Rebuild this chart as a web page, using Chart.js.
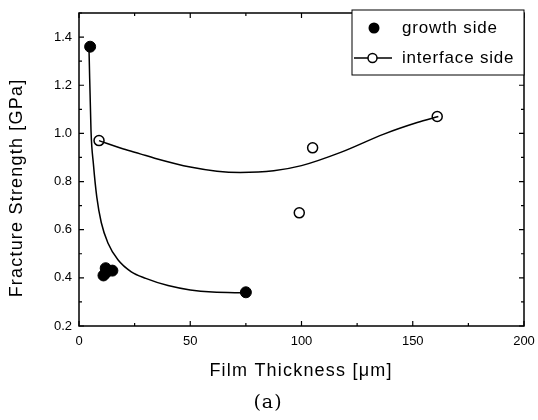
<!DOCTYPE html>
<html>
<head>
<meta charset="utf-8">
<script src="https://cdn.jsdelivr.net/npm/chart.js@4.4.0/dist/chart.umd.min.js"></script>
<style>
  html, body { margin: 0; padding: 0; background: #fff; }
  #wrap { width: 538px; height: 420px; position: relative; }
</style>
</head>
<body>
<div id="wrap"><canvas id="chart"></canvas></div>
<script>
// measured strength vs. film thickness
const growthX = [5, 11, 12, 15, 12, 75];
const growthY = [1.36, 0.41, 0.44, 0.43, 0.42, 0.34];
const interfaceX = [9, 99, 105, 161];
const interfaceY = [0.97, 0.67, 0.94, 1.07];

// hand-drawn trend curves
const growthFitX = [4.5, 5.4, 6.5, 8, 10, 13, 17.5, 23.5, 30, 40, 50, 60, 75];
const growthFitY = [1.35, 1.01, 0.87, 0.735, 0.63, 0.545, 0.475, 0.425, 0.398, 0.368, 0.35, 0.341, 0.338];
const interfaceFitX = [9, 20, 27.5, 34, 50, 62, 72.5, 87.5, 100, 117.6, 137, 152, 161.5];
const interfaceFitY = [0.97, 0.935, 0.915, 0.897, 0.86, 0.843, 0.838, 0.845, 0.866, 0.921, 0.997, 1.045, 1.07];

// axes
const xTicks = [0, 50, 100, 150, 200];
const xMinor = [25, 75, 125, 175];
const yTicks = [0.2, 0.4, 0.6, 0.8, 1.0, 1.2, 1.4];
const yMinor = [0.3, 0.5, 0.7, 0.9, 1.1, 1.3, 1.5];

const xTitle = 'Film Thickness [\u03bcm]';
const yTitle = 'Fracture Strength [GPa]';
const panelLabel = '(a)';
const legendLabels = ['growth side', 'interface side'];

const pts = (xs, ys) => xs.map((x, i) => ({ x: x, y: ys[i] }));
const FONT = '"Liberation Sans", Arial, sans-serif';

// frame, inward ticks, titles and legend box
const decor = {
  id: 'decor',
  afterDraw(chart) {
    const ctx = chart.ctx;
    const a = chart.chartArea;
    const xs = chart.scales.x, ys = chart.scales.y;
    ctx.save();
    ctx.strokeStyle = '#000';
    ctx.lineWidth = 1.5;
    ctx.strokeRect(a.left, a.top, a.right - a.left, a.bottom - a.top);

    ctx.lineWidth = 1.2;
    ctx.beginPath();
    const xt = (v, len) => {
      const p = xs.getPixelForValue(v);
      ctx.moveTo(p, a.bottom); ctx.lineTo(p, a.bottom - len);
      ctx.moveTo(p, a.top); ctx.lineTo(p, a.top + len);
    };
    const yt = (v, len) => {
      const p = ys.getPixelForValue(v);
      ctx.moveTo(a.left, p); ctx.lineTo(a.left + len, p);
      ctx.moveTo(a.right, p); ctx.lineTo(a.right - len, p);
    };
    xTicks.forEach(v => xt(v, 5));
    xMinor.forEach(v => xt(v, 3));
    yTicks.forEach(v => yt(v, 5));
    yMinor.forEach(v => yt(v, 3));
    ctx.stroke();

    // axis titles
    ctx.fillStyle = '#000';
    ctx.font = '18px ' + FONT;
    ctx.letterSpacing = '1.2px';
    ctx.textAlign = 'center';
    ctx.textBaseline = 'middle';
    ctx.fillText(xTitle, 301, 371);
    ctx.save();
    ctx.translate(17, 188);
    ctx.rotate(-Math.PI / 2);
    ctx.fillText(yTitle, 0, 0);
    ctx.restore();
    ctx.letterSpacing = '1px';
    ctx.font = '19px "DejaVu Serif", "Liberation Serif", serif';
    ctx.fillText(panelLabel, 268, 403);

    // legend
    const bx = 352, by = 10, bw = a.right - bx, bh = 65;
    ctx.fillStyle = '#fff';
    ctx.fillRect(bx, by, bw, bh);
    ctx.lineWidth = 1;
    ctx.strokeRect(bx, by, bw, bh);
    ctx.fillStyle = '#000';
    ctx.beginPath();
    ctx.arc(374, 28, 5.5, 0, Math.PI * 2);
    ctx.fill();
    ctx.lineWidth = 1.5;
    ctx.beginPath();
    ctx.moveTo(354, 58); ctx.lineTo(368, 58);
    ctx.moveTo(377, 58); ctx.lineTo(392, 58);
    ctx.stroke();
    ctx.beginPath();
    ctx.arc(372.5, 58, 4.5, 0, Math.PI * 2);
    ctx.stroke();
    ctx.font = '17px ' + FONT;
    ctx.letterSpacing = '0.8px';
    ctx.textAlign = 'left';
    ctx.fillText(legendLabels[0], 402, 28);
    ctx.fillText(legendLabels[1], 402, 58);
    ctx.restore();
  }
};

new Chart(document.getElementById('chart'), {
  type: 'scatter',
  data: {
    datasets: [
      {
        label: 'growth fit',
        type: 'line',
        data: pts(growthFitX, growthFitY),
        borderColor: '#000',
        borderWidth: 1.5,
        pointRadius: 0,
        cubicInterpolationMode: 'monotone',
        fill: false
      },
      {
        label: 'interface fit',
        type: 'line',
        data: pts(interfaceFitX, interfaceFitY),
        borderColor: '#000',
        borderWidth: 1.5,
        pointRadius: 0,
        cubicInterpolationMode: 'monotone',
        fill: false
      },
      {
        label: legendLabels[0],
        data: pts(growthX, growthY),
        backgroundColor: '#000',
        borderColor: '#000',
        pointRadius: 5.5
      },
      {
        label: legendLabels[1],
        data: pts(interfaceX, interfaceY),
        backgroundColor: '#fff',
        borderColor: '#000',
        borderWidth: 1.5,
        pointRadius: 5
      }
    ]
  },
  options: {
    responsive: true,
    maintainAspectRatio: false,
    animation: false,
    layout: { padding: { top: 13, right: 14, left: 0, bottom: 0 } },
    plugins: {
      legend: { display: false },
      tooltip: { enabled: false }
    },
    scales: {
      x: {
        type: 'linear',
        min: 0,
        max: 200,
        afterBuildTicks: s => { s.ticks = xTicks.map(v => ({ value: v })); },
        // fixed box so the plot area lines up; no extra room for edge labels
        afterFit: s => { s.height = 94; s.paddingLeft = 0; s.paddingRight = 0; },
        grid: { drawOnChartArea: false, drawTicks: false },
        border: { display: false },
        ticks: { color: '#000', padding: 8, font: { family: FONT, size: 13 }, maxRotation: 0 }
      },
      y: {
        type: 'linear',
        min: 0.2,
        max: 1.5,
        afterBuildTicks: s => { s.ticks = yTicks.map(v => ({ value: v })); },
        afterFit: s => { s.width = 79; s.paddingTop = 0; s.paddingBottom = 0; },
        grid: { drawOnChartArea: false, drawTicks: false },
        border: { display: false },
        ticks: {
          color: '#000',
          padding: 7,
          font: { family: FONT, size: 13 },
          callback: v => v.toFixed(1)
        }
      }
    }
  },
  plugins: [decor]
});
</script>
</body>
</html>
